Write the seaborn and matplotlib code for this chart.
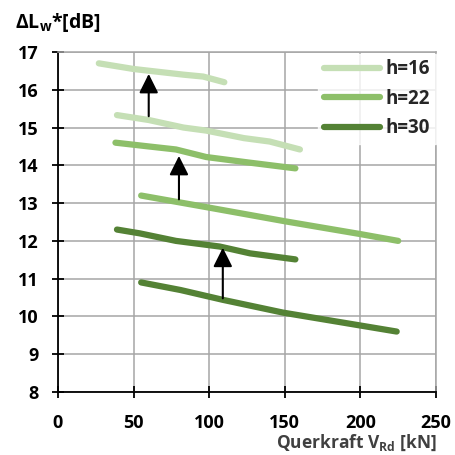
import matplotlib
matplotlib.use("Agg")
import matplotlib.pyplot as plt
import seaborn as sns
import pandas as pd
from matplotlib.lines import Line2D

# ---- data ----
h16_upper_x = [27, 50, 83, 96, 110]
h16_upper_y = [16.7, 16.55, 16.4, 16.35, 16.2]
h16_lower_x = [39, 60, 83, 98, 123, 140, 160]
h16_lower_y = [15.33, 15.2, 15.0, 14.92, 14.72, 14.63, 14.42]
h22_upper_x = [38, 60, 78, 98, 125, 157]
h22_upper_y = [14.6, 14.5, 14.42, 14.22, 14.08, 13.92]
h22_lower_x = [55, 100, 150, 200, 225]
h22_lower_y = [13.2, 12.88, 12.52, 12.18, 12.0]
h30_upper_x = [39, 54, 78, 107, 127, 157]
h30_upper_y = [12.3, 12.2, 12.0, 11.85, 11.67, 11.51]
h30_lower_x = [55, 81, 109, 149, 224]
h30_lower_y = [10.9, 10.7, 10.44, 10.1, 9.6]

series_labels = ["h=16", "h=22", "h=30"]
colors = ["#c5dfb5", "#8dbf69", "#548235"]

arrow_x = [60, 80, 109]
arrow_y_start = [15.3, 13.1, 10.48]
arrow_y_end = [16.42, 14.25, 11.82]

x_ticks = [0, 50, 100, 150, 200, 250]
y_ticks = [8, 9, 10, 11, 12, 13, 14, 15, 16, 17]

# ---- build long table ----
curves = [
    ("h=16", "16u", h16_upper_x, h16_upper_y),
    ("h=16", "16l", h16_lower_x, h16_lower_y),
    ("h=22", "22u", h22_upper_x, h22_upper_y),
    ("h=22", "22l", h22_lower_x, h22_lower_y),
    ("h=30", "30u", h30_upper_x, h30_upper_y),
    ("h=30", "30l", h30_lower_x, h30_lower_y),
]
rows = []
for lab, cid, xs, ys in curves:
    for xv, yv in zip(xs, ys):
        rows.append({"h": lab, "curve": cid, "V": xv, "L": yv})
df = pd.DataFrame(rows)

sns.set_style("white")
plt.rcParams.update({
    "font.family": ["Open Sans", "DejaVu Sans"],
    "font.weight": "bold",
    "axes.edgecolor": "#a6a6a6",
    "axes.linewidth": 1.1,
    "axes.grid": True,
    "axes.grid.which": "major",
    "axes.axisbelow": True,
    "grid.color": "#a6a6a6",
    "grid.linewidth": 1.1,
    "grid.linestyle": "-",
    "xtick.bottom": True,
    "ytick.left": True,
    "xtick.direction": "inout",
    "ytick.direction": "inout",
    "xtick.major.size": 8,
    "ytick.major.size": 8,
    "xtick.major.width": 1.3,
    "ytick.major.width": 1.3,
    "xtick.color": "black",
    "ytick.color": "black",
    "xtick.labelcolor": "black",
    "ytick.labelcolor": "black",
    "xtick.labelsize": 13,
    "ytick.labelsize": 13,
    "xtick.major.pad": 12,
    "ytick.major.pad": 10,
})

fig = plt.figure(figsize=(4.56, 4.55), dpi=100)
ax = fig.add_axes([58/456, 1-392/455, (436-58)/456, (392-52)/455])

palette = dict(zip(series_labels, colors))
sns.lineplot(data=df, x="V", y="L", hue="h", units="curve", estimator=None,
             sort=False, palette=palette, linewidth=4.5, legend=False, ax=ax,
             solid_capstyle="round", solid_joinstyle="round", zorder=3)

for ax_x, y0, y1 in zip(arrow_x, arrow_y_start, arrow_y_end):
    ax.annotate("", xy=(ax_x, y1), xytext=(ax_x, y0),
                arrowprops=dict(arrowstyle="-|>", mutation_scale=29, lw=1.5,
                                color="black", shrinkA=0, shrinkB=0),
                zorder=4)

ax.set_xlim(0, 250)
ax.set_ylim(8, 17)
ax.set_xticks(x_ticks)
ax.set_yticks(y_ticks)
ax.tick_params(axis="both", direction="inout", length=8, width=1.3, color="black",
               labelsize=13, left=True, bottom=True)
ax.tick_params(axis="y", pad=10)
ax.tick_params(axis="x", pad=12)
for lbl in ax.get_xticklabels() + ax.get_yticklabels():
    lbl.set_fontweight("bold")
ax.set_xlabel("")
ax.set_ylabel("")
ax.set_axisbelow(True)
ax.xaxis.grid(True, which="major", color="#a6a6a6", linewidth=1.1, linestyle="-")
ax.yaxis.grid(True, which="major", color="#a6a6a6", linewidth=1.1, linestyle="-")

handles = [Line2D([0], [0], color=c, lw=4.5, solid_capstyle="round") for c in colors]
leg = ax.legend(handles, series_labels, loc="upper right", bbox_to_anchor=(1.0, 0.995),
                frameon=True, fancybox=False, handlelength=3.0, handletextpad=0.3,
                labelspacing=0.5, borderpad=0.3, borderaxespad=0.0,
                prop={"weight": "bold", "size": 13.5})
leg.get_frame().set_facecolor("white")
leg.get_frame().set_edgecolor("white")

ax.spines["left"].set_edgecolor("black")
ax.spines["bottom"].set_edgecolor("black")
ax.spines["left"].set_linewidth(1.3)
ax.spines["bottom"].set_linewidth(1.3)

fig.text(15/456, 1-23/455, r"ΔL$_\mathregular{w}$*[dB]", fontsize=14,
         fontweight="bold", color="black", ha="left", va="center")
fig.text(437/456, 1-443/455, r"Querkraft V$_\mathregular{Rd}$ [kN]", fontsize=12.5,
         fontweight="bold", color="#404040", ha="right", va="center")

fig.canvas.draw()
fig.savefig("out.png", dpi=100)
